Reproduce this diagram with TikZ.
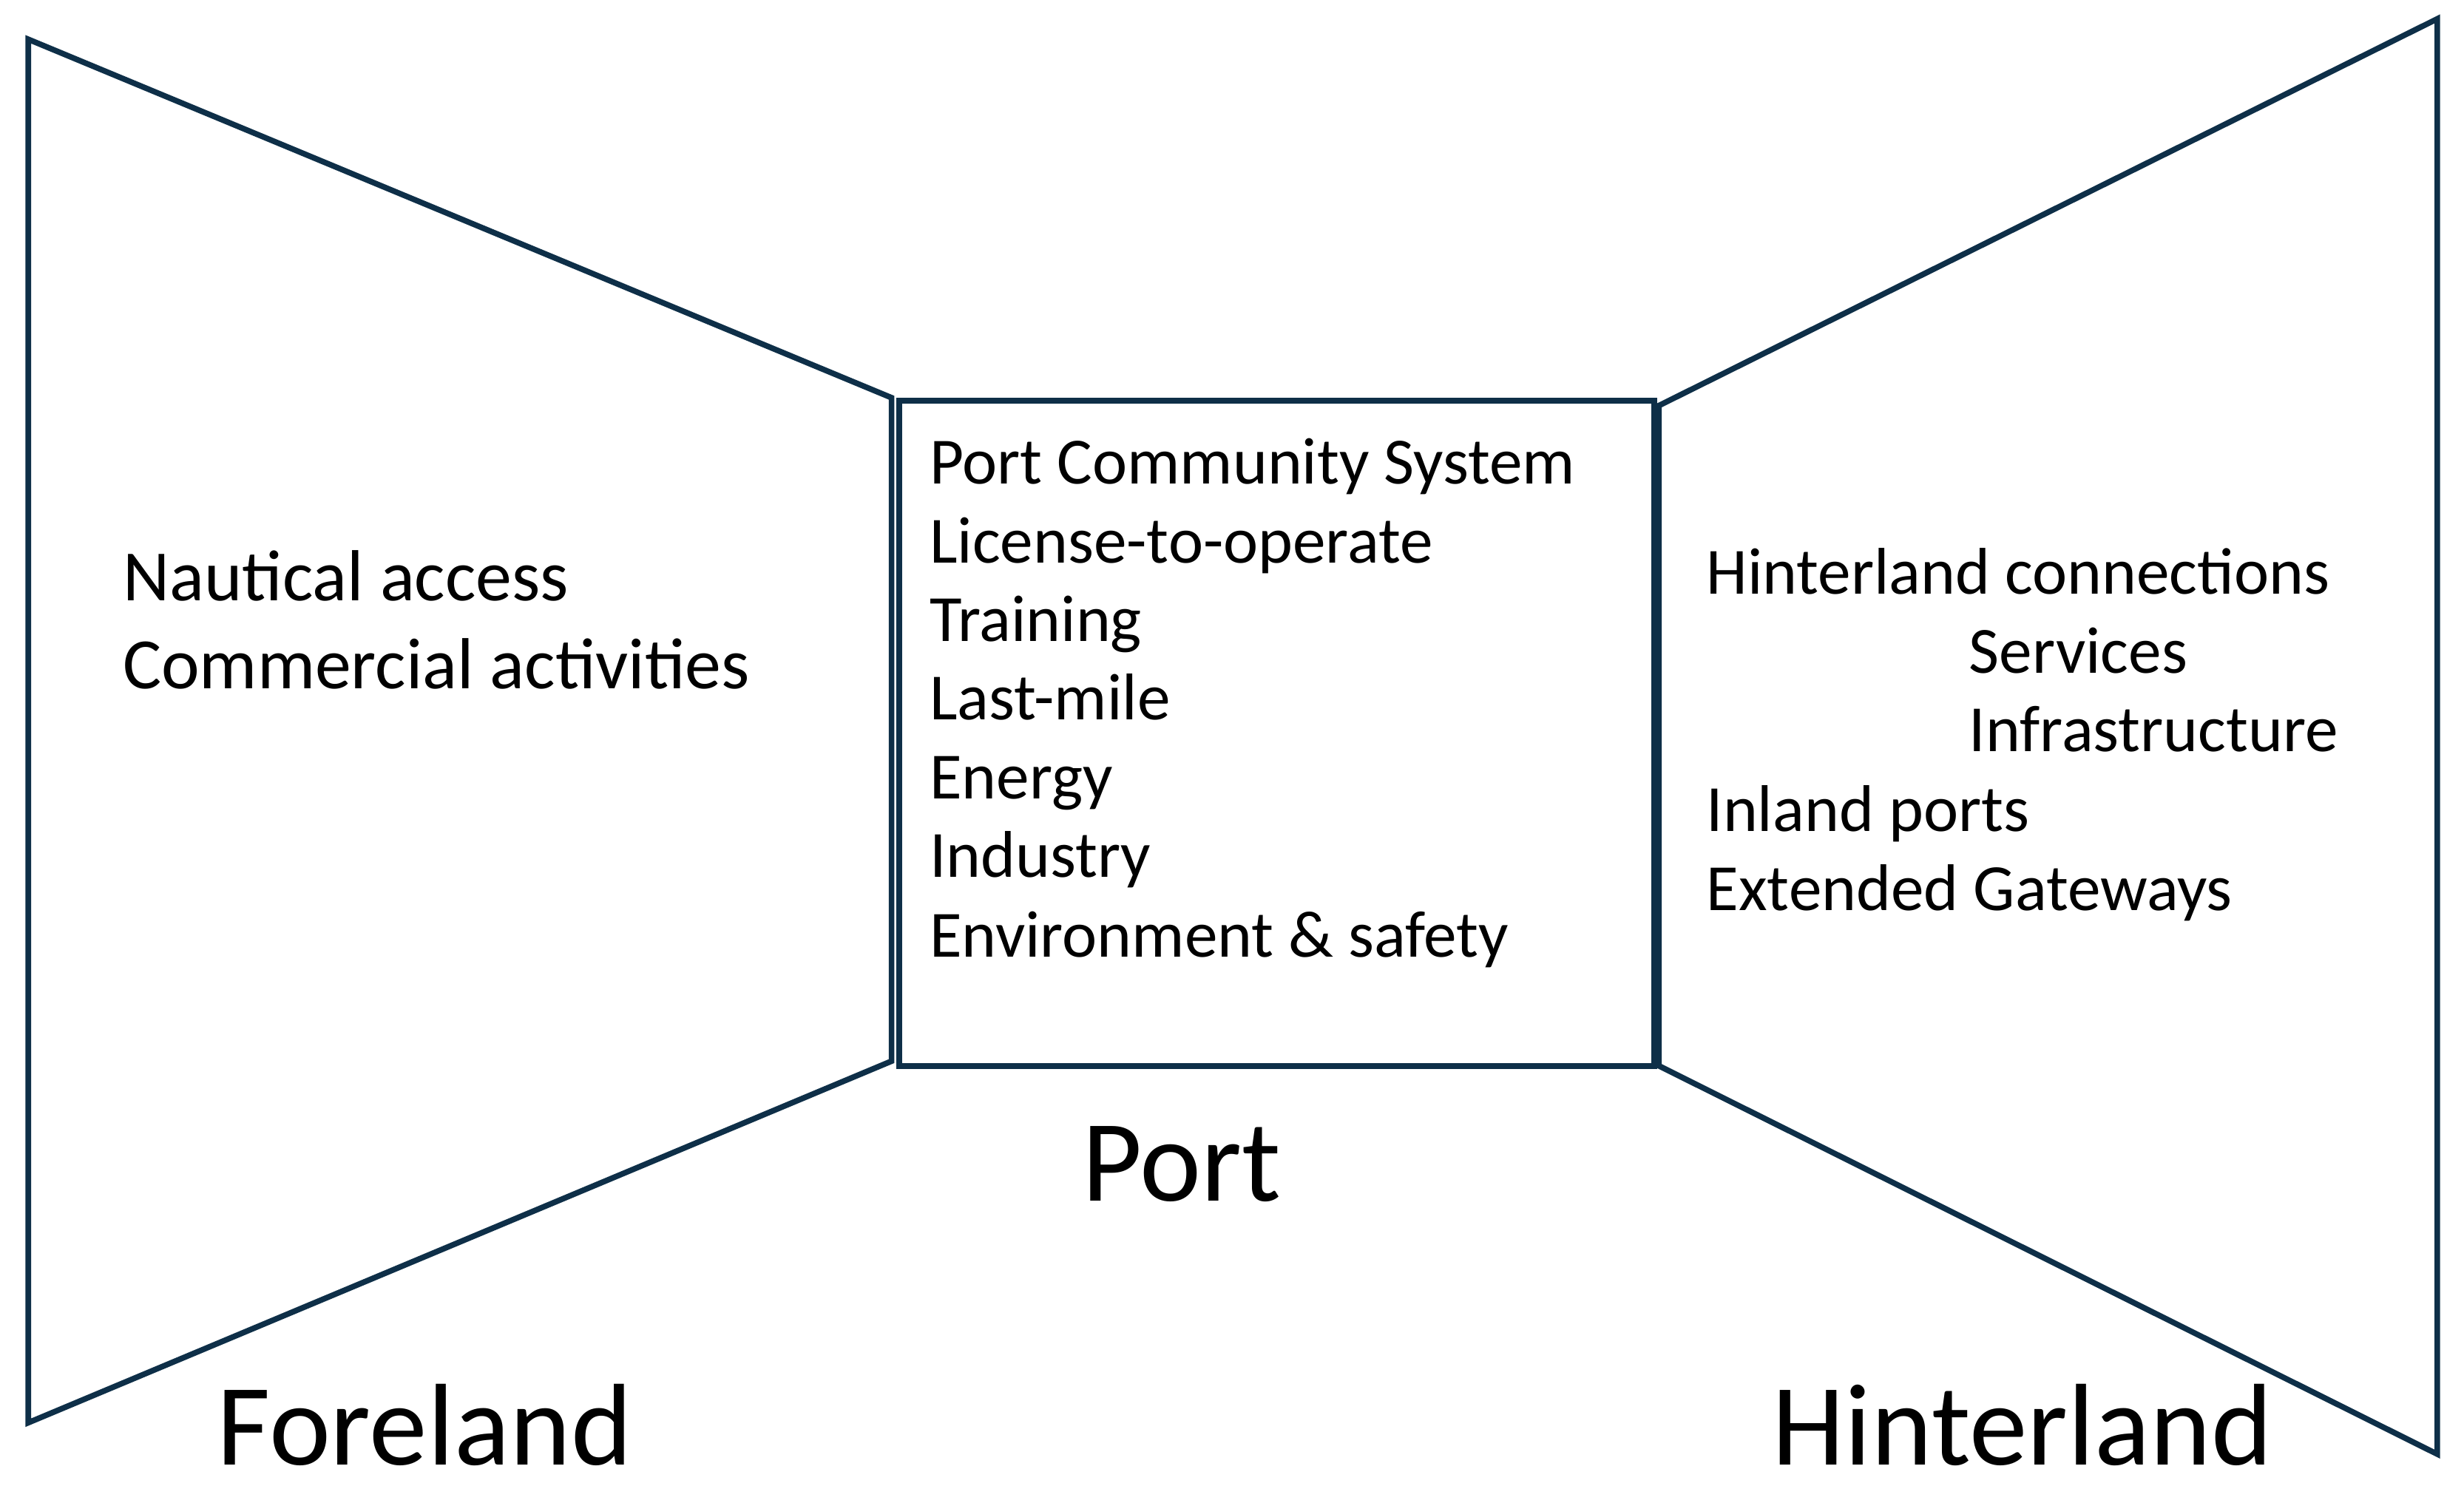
\documentclass[tikz,border=0pt]{standalone}
\usepackage{fontspec}
\setmainfont{Carlito}
\definecolor{ln}{HTML}{0E2F48}
\begin{document}
\begin{tikzpicture}[x=1pt,y=-1pt,
  sh/.style={draw=ln,line width=3.6pt,line join=miter},
  t/.style={anchor=base west,inner sep=0pt,font=\fontsize{42}{48}\selectfont},
  tl/.style={anchor=base west,inner sep=0pt,font=\fontsize{46}{52}\selectfont},
  big/.style={anchor=base west,inner sep=0pt,font=\fontsize{74}{80}\selectfont}]
\useasboundingbox (0,0) rectangle (1567,956);
\draw[sh] (18,25) -- (567,253) -- (567,675) -- (18,905) -- cycle;
\draw[sh] (572,255) rectangle (1052,678);
\draw[sh] (1055,258) -- (1550,12) -- (1550,925) -- (1055,678) -- cycle;
\node[t] (c1) at (591,308) {Port Community System};
\node[t] (c2) at (591,358) {License-to-operate};
\node[t] (c3) at (591,408) {Training};
\node[t] (c4) at (591,458) {Last-mile};
\node[t] (c5) at (591,508) {Energy};
\node[t] (c6) at (591,558) {Industry};
\node[t] (c7) at (591,609) {Environment \& safety};
\node[tl] (l1) at (78,382) {Nautical access};
\node[tl] (l2) at (78,438) {Commercial activities};
\node[t] (r1) at (1085,378) {Hinterland connections};
\node[t] (r2) at (1252,428) {Services};
\node[t] (r3) at (1252,478) {Infrastructure};
\node[t] (r4) at (1085,529) {Inland ports};
\node[t] (r5) at (1085,579) {Extended Gateways};
\node[big] (p) at (688,764) {Port};
\node[big] (f) at (138,932) {Foreland};
\node[big] (h) at (1127,932) {Hinterland};
\end{tikzpicture}
\end{document}
